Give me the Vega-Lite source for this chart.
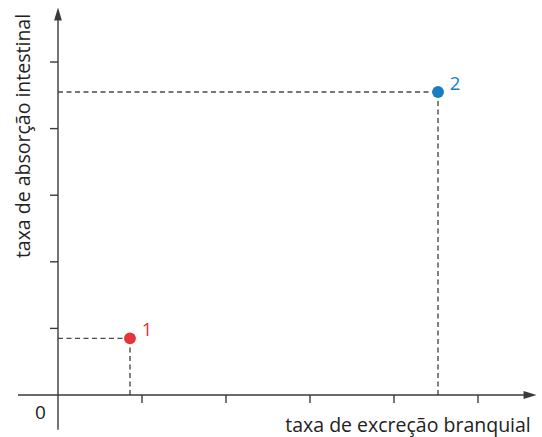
{
  "$schema": "https://vega.github.io/schema/vega-lite/v6.json",
  "width": 542,
  "height": 437,
  "autosize": {"type": "none"},
  "padding": 0,
  "background": "white",
  "config": {"view": {"stroke": null}},
  "datasets": {
    "axes": [
      {"x": -0.476, "y": 0, "x2": 5.65, "y2": 0},
      {"x": 0, "y": -0.52, "x2": 0, "y2": 5.70}
    ],
    "guides": [
      {"x": 0, "y": 0.851, "x2": 0.857, "y2": 0.851},
      {"x": 0.857, "y": 0, "x2": 0.857, "y2": 0.851},
      {"x": 0, "y": 4.55, "x2": 4.524, "y2": 4.55},
      {"x": 4.524, "y": 0, "x2": 4.524, "y2": 4.55}
    ],
    "ticks": [
      {"x": 1, "y": 0, "x2": 1, "y2": -0.12},
      {"x": 2, "y": 0, "x2": 2, "y2": -0.12},
      {"x": 3, "y": 0, "x2": 3, "y2": -0.12},
      {"x": 4, "y": 0, "x2": 4, "y2": -0.12},
      {"x": 5, "y": 0, "x2": 5, "y2": -0.12},
      {"x": 0, "y": 1, "x2": -0.095, "y2": 1},
      {"x": 0, "y": 2, "x2": -0.095, "y2": 2},
      {"x": 0, "y": 3, "x2": -0.095, "y2": 3},
      {"x": 0, "y": 4, "x2": -0.095, "y2": 4},
      {"x": 0, "y": 5, "x2": -0.095, "y2": 5}
    ],
    "points": [
      {"id": "1", "x": 0.857, "y": 0.851},
      {"id": "2", "x": 4.524, "y": 4.55}
    ],
    "arrows": [
      {"dir": "up", "x": 0, "y": 5.72},
      {"dir": "right", "x": 5.62, "y": 0}
    ],
    "zero": [
      {"label": "0", "x": -0.208, "y": -0.36}
    ],
    "texts": [
      {"label": "taxa de excreção branquial", "x": 4.167, "y": -0.556}
    ],
    "vtexts": [
      {"label": "taxa de absorção intestinal", "x": -0.333, "y": 3.889}
    ]
  },
  "encoding": {
    "x": {"field": "x", "type": "quantitative", "scale": {"domain": [-0.6905, 5.762], "nice": false, "zero": false}, "axis": null},
    "y": {"field": "y", "type": "quantitative", "scale": {"domain": [-0.6306, 5.931], "nice": false, "zero": false}, "axis": null}
  },
  "layer": [
    {
      "data": {"name": "guides"},
      "mark": {"type": "rule", "color": "#4a4a4a", "strokeWidth": 1.4, "strokeDash": [5, 3.5]},
      "encoding": {"x2": {"field": "x2"}, "y2": {"field": "y2"}}
    },
    {
      "data": {"name": "axes"},
      "mark": {"type": "rule", "color": "#3a3a3a", "strokeWidth": 1.4},
      "encoding": {"x2": {"field": "x2"}, "y2": {"field": "y2"}}
    },
    {
      "data": {"name": "ticks"},
      "mark": {"type": "rule", "color": "#3a3a3a", "strokeWidth": 1.4},
      "encoding": {"x2": {"field": "x2"}, "y2": {"field": "y2"}}
    },
    {
      "data": {"name": "arrows"},
      "transform": [{"filter": "datum.dir === 'up'"}],
      "mark": {"type": "point", "shape": "M0,-1L0.6,1L-0.6,1Z", "filled": true, "color": "#3a3a3a", "size": 169, "opacity": 1}
    },
    {
      "data": {"name": "arrows"},
      "transform": [{"filter": "datum.dir === 'right'"}],
      "mark": {"type": "point", "shape": "M1,0L-1,-0.6L-1,0.6Z", "filled": true, "color": "#3a3a3a", "size": 169, "opacity": 1}
    },
    {
      "data": {"name": "points"},
      "mark": {"type": "circle", "size": 140, "opacity": 1},
      "encoding": {
        "color": {"field": "id", "type": "nominal", "scale": {"domain": ["1", "2"], "range": ["#e8333c", "#1b7cc6"]}, "legend": null}
      }
    },
    {
      "data": {"name": "points"},
      "mark": {"type": "text", "dx": 17, "dy": -2, "fontSize": 18.5, "font": "Open Sans", "align": "center", "baseline": "alphabetic"},
      "encoding": {
        "text": {"field": "id", "type": "nominal"},
        "color": {"field": "id", "type": "nominal", "legend": null}
      }
    },
    {
      "data": {"name": "zero"},
      "mark": {"type": "text", "fontSize": 19, "font": "Open Sans", "align": "center", "baseline": "alphabetic", "color": "#222222"},
      "encoding": {"text": {"field": "label", "type": "nominal"}}
    },
    {
      "data": {"name": "texts"},
      "mark": {"type": "text", "fontSize": 19.5, "font": "Open Sans", "align": "center", "baseline": "alphabetic", "color": "#222222"},
      "encoding": {"text": {"field": "label", "type": "nominal"}}
    },
    {
      "data": {"name": "vtexts"},
      "mark": {"type": "text", "fontSize": 19.5, "font": "Open Sans", "align": "center", "baseline": "alphabetic", "angle": 270, "color": "#222222"},
      "encoding": {"text": {"field": "label", "type": "nominal"}}
    }
  ]
}
